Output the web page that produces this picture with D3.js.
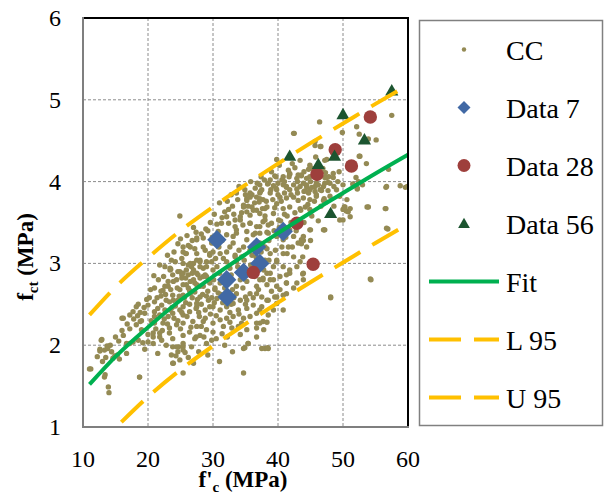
<!DOCTYPE html>
<html>
<head>
<meta charset="utf-8">
<script src="https://cdn.jsdelivr.net/npm/d3@7"></script>
<style>
  body { margin: 0; background: #fff; }
  svg { display: block; }
</style>
</head>
<body>
<script>
// values (f'c in MPa, fct in MPa)
const xTicks = [10, 20, 30, 40, 50, 60];
const yTicks = [1, 2, 3, 4, 5, 6];

const ccPoints = [
  [11.2,1.71],[12.9,2.07],[12.6,1.95],[13.7,1.99],[13.5,1.85],[13.9,1.49],[14.0,1.42],[13.4,1.64],[14.9,1.87],[15.3,1.88],
  [17.2,2.02],[18.7,1.61],[16.0,2.33],[18.4,2.36],[18.8,2.29],[19.2,2.03],[20.8,2.10],[21.8,2.15],[23.9,1.78],[24.3,1.87],
  [24.7,1.98],[25.4,1.98],[25.4,1.66],[25.7,1.91],[27.0,1.78],[28.0,2.12],[34.7,1.66],[34.9,1.97],[35.4,2.02],[36.7,2.21],
  [37.2,2.27],[38.0,1.96],[38.4,1.97],[37.8,2.19],[38.3,2.28],[34.4,2.27],[35.2,2.19],
  [24.9,3.58],[20.9,2.85],[23.5,2.93],[31.0,3.74],[59.9,3.94],[58.8,3.95],[56.7,3.94],[53.6,4.22],[52.6,4.31],
  [53.9,3.69],[56.6,3.67],[56.9,3.42],[54.2,2.81],[48.1,2.58],[47.2,3.41],[45.0,3.41],[43.9,2.88],[42.4,2.70],[43.6,3.29],
  [50.6,3.78],[50.0,3.66],[50.8,3.63],[52.4,4.00],[51.7,3.96],[52.2,3.91],[48.5,4.10],[48.5,4.05],
  [46.4,4.73],[42.5,4.59],[49.9,4.60],[52.1,4.67],[52.5,4.58],[55.1,4.51],[53.9,4.52],[57.5,4.81],[52.5,4.31],
  [45.7,4.44],[46.6,4.43],[45.8,4.30],[39.8,4.27],[47.5,4.27],
  [57.0,4.15],[47.2,4.05],[52.0,4.05],[44.4,4.04],[43.6,4.08],[47.2,3.98],[47.7,3.99],[45.7,3.94],[44.9,3.90],[44.0,3.88],
  [44.7,3.86],[45.7,3.88],[46.7,3.89],[47.7,3.89],[51.5,3.97],[52.2,3.92],[53.0,3.96],[56.6,3.93],[59.6,3.93],
  [47.1,3.79],[47.4,3.75],[50.2,3.69],[50.5,3.64],[53.7,3.69],[56.5,3.67],[43.4,3.67],[44.9,3.66],[43.5,3.65],[50.0,3.53],
  [44.9,3.41],[47.1,3.41],[56.7,3.43],[43.9,3.28],[43.6,3.24],[43.8,3.08],[43.8,2.87],[54.3,2.80],[48.1,2.59],
  [47.2,4.26],[44.9,4.20],[45.2,4.16],[44.7,4.15],[46.9,4.16],[47.3,4.11],[39.5,4.07],[41.8,4.09],[41.7,4.06],[43.6,4.07],
  [47.5,4.05],[38.4,3.97],[39.3,3.95],[39.7,3.92],[38.9,3.90],[40.8,3.96],[42.4,3.96],[41.3,3.93],[41.8,3.90],[42.9,3.91],
  [43.4,3.94],[44.4,3.96],[45.2,3.93],[45.9,3.84],[46.5,3.90],[44.2,3.89],
  [34.9,3.90],[36.0,3.84],[35.2,3.77],[37.2,3.96],[37.3,3.88],[36.7,3.81],[37.7,3.78],[34.7,3.71],[36.0,3.69],[37.6,3.67],
  [40.3,3.81],[41.3,3.80],[42.4,3.81],[43.9,3.80],[43.1,3.77],[44.9,3.78],[39.8,3.73],[41.8,3.69],[40.8,3.67],[44.2,3.69],
  [35.7,3.81],[37.2,3.86],[37.1,3.75],[34.7,3.69],[35.2,3.63],[34.2,3.57],[35.7,3.59],[36.7,3.65],[38.0,3.67],
  [31.3,3.49],[32.4,3.49],[33.4,3.53],[33.4,3.45],[34.6,3.47],[35.7,3.49],[36.7,3.45],[37.7,3.51],[38.5,3.47],
  [30.8,3.39],[32.1,3.35],[33.6,3.37],[35.2,3.39],[36.2,3.35],[37.2,3.37],[38.3,3.38],
  [27.5,3.29],[28.5,3.31],[29.8,3.25],[33.1,3.25],[34.7,3.20],[37.2,3.25],[38.3,3.18],
  [25.4,3.14],[26.5,3.20],[27.5,3.12],[28.8,3.16],[29.5,3.10],[31.1,3.12],[32.1,3.14],[33.4,3.10],[34.4,3.08],
  [25.4,3.00],[25.9,2.92],[26.7,2.96],[28.0,3.02],[28.5,2.94],[29.8,3.02],[30.6,2.96],[32.1,3.02],[38.0,3.04],[38.3,2.88],[37.7,2.80],
  [23.4,2.94],[22.6,2.72],[24.4,2.80],[25.2,2.86],[25.9,2.74],[27.5,2.74],[29.0,2.84],[29.5,2.76],[31.1,2.76],[30.3,2.70],
  [22.3,2.67],[23.1,2.72],[23.8,2.61],[21.0,2.53],[22.1,2.49],[23.3,2.53],[24.6,2.55],[25.4,2.61],[26.4,2.67],[20.0,2.49],
  [18.2,2.47],[17.7,2.41],[16.2,2.33],[17.2,2.37],[19.5,2.39],[21.0,2.41],[21.0,2.35],[21.8,2.37],[22.6,2.43],[23.1,2.35],
  [23.8,2.39],[24.9,2.43],[25.4,2.37],[26.4,2.41],[27.4,2.45],[27.9,2.35],[21.0,2.27],[22.3,2.27],[23.3,2.21],[24.4,2.25],
  [25.4,2.27],[26.9,2.29],[28.2,2.23],[18.2,2.25],[19.0,2.19],[20.0,2.13],[20.8,2.15],[21.8,2.10],[23.3,2.15],[23.8,2.08],
  [25.4,2.12],[27.4,2.10],[25.4,2.02],[16.7,2.02],[17.7,2.04],[12.8,2.06],[13.3,1.94],[12.6,1.93],[13.8,1.96],[15.1,1.87],
  [14.6,1.84],[15.6,1.83],[16.7,1.90],[18.5,2.06],[20.0,2.04],[22.1,2.06],[23.8,1.98],[24.4,1.98],[24.6,1.92],[25.4,1.94],
  [24.9,1.82],[23.8,1.78],[11.0,1.71],[13.3,1.61],[18.7,1.61],[23.6,1.88],[26.7,1.98],
  [27.0,3.00],[28.0,2.96],[29.0,3.02],[27.5,2.88],[28.8,2.86],[30.0,2.92],[27.2,2.76],[28.5,2.72],[29.5,2.78],[30.3,2.68],
  [28.0,2.59],[29.3,2.55],[30.6,2.57],[27.5,2.47],[28.8,2.43],[30.0,2.47],[31.1,2.43],[32.1,2.47],[33.1,2.51],[34.2,2.55],
  [35.0,2.59],[33.9,2.43],[35.2,2.45],[36.2,2.49],[36.7,2.39],[35.7,2.35],[34.7,2.33],[33.1,2.35],[32.1,2.33],[31.1,2.31],
  [30.0,2.27],[28.5,2.29],[27.5,2.23],[29.0,2.19],[31.6,2.23],[32.9,2.21],[33.9,2.23],[36.7,2.27],[37.7,2.29],[34.2,2.13],
  [35.4,2.02],[36.7,2.10],[34.7,1.96],[37.5,1.96],[38.5,1.96],[27.2,2.08],[38.3,2.74],[39.3,2.80],[40.3,2.84],[41.3,2.86],
  [39.0,2.66],[40.3,2.68],[40.8,2.61],[39.5,2.59],[38.5,2.55],[37.5,2.59],[41.3,2.76],[41.8,2.92],[43.4,3.02],[39.8,2.51],
  [37.5,2.47],[38.5,2.37],[35.7,2.63],[36.7,2.72],[37.7,2.82],[38.8,2.88],[36.0,2.92],[35.2,2.78],[36.7,3.02],[39.8,3.02],
  [25.4,3.20],[25.8,3.12],[23.4,2.92],[23.1,2.78],[23.9,2.78],[24.9,2.90],[25.2,2.82],[26.2,2.86],[27.0,2.92],[27.5,3.04],
  [27.7,2.86],[26.5,2.78],[25.4,2.74],[25.2,3.06],[26.2,2.98],[27.5,3.31],[27.2,3.18],
  [32.1,3.57],[35.2,3.79],[35.7,3.86],[37.5,3.90],[38.5,3.98],[37.2,3.79],[38.8,3.86],[39.8,3.90],[39.7,4.06],[40.6,4.02],
  [41.3,3.94],[40.8,4.06],[41.8,4.10],[42.9,4.04],[41.6,4.14],[42.6,4.17],[43.9,3.98],[44.9,4.06],[44.4,3.94],[45.9,3.98],
  [47.0,3.94],[48.0,3.98],[45.9,3.82],[47.0,3.77],[48.0,3.82],[49.0,3.90],[49.5,3.82],[50.3,3.69],[51.1,3.67],[51.1,3.57],
  [49.5,3.53],[46.5,4.43],[45.7,4.49],[42.4,4.59],[44.9,4.16],[43.1,4.08],[47.0,3.41],[43.9,3.33],[43.1,3.25],[41.6,3.20],
  [42.4,3.08],[44.4,3.20],
  [36.2,3.65],[37.2,3.61],[38.3,3.69],[39.3,3.61],[38.0,3.53],[39.0,3.49],[40.1,3.53],[37.2,3.45],[38.5,3.37],[39.8,3.33],
  [40.8,3.29],[35.7,3.49],[36.5,3.37],[35.2,3.29],[41.8,3.41],[42.4,3.33],[40.8,3.12],[39.8,3.04],[38.8,3.12],[38.0,3.20],
  [35.7,3.16],[39.3,2.96],[40.8,2.96],[41.8,2.88],[42.9,2.96],[37.2,2.80],[38.8,2.80],[39.8,2.72],[41.3,2.76],[42.9,2.76],
  [43.9,2.80],[34.2,3.53],[33.6,3.41],[33.1,3.33],[32.6,3.20],[33.4,3.08],[29.5,3.12],[28.5,3.20],[28.0,3.04],[26.5,3.00],
  [25.9,3.12],[25.4,2.88],[27.0,2.80],[28.5,2.84],[30.1,2.80],[28.0,2.72],[26.5,2.63],[24.9,2.68],[23.9,2.55],[23.4,2.43],
  [25.4,2.47],[27.5,2.51],[29.5,2.47],[33.6,2.63],[35.2,2.55],[36.7,2.63],[38.3,2.55],[39.8,2.59],[41.3,2.63],[37.2,2.43],
  [39.3,2.43],[40.8,2.43],
  [20.5,2.30],[21.5,2.45],[22.0,2.60],[22.8,2.55],[23.5,2.68],[24.2,2.48],[24.8,2.60],[25.8,2.52],[26.2,2.70],[26.8,2.58],
  [27.2,2.65],[28.4,2.62],[29.2,2.66],[29.8,2.58],[30.8,2.64],[21.2,2.20],[22.5,2.32],[24.0,2.33],[25.0,2.20],[26.0,2.35],
  [26.6,2.22],[27.8,2.40],[28.8,2.33],[29.6,2.38],[30.5,2.36],[31.5,2.52],[32.6,2.40],[33.0,2.68],[31.8,2.70],[32.8,2.86],
  [33.8,2.96],[34.8,3.04],[31.6,3.06],[30.9,3.20],[29.9,3.32],[28.9,3.42],[29.6,3.50],[30.2,3.60],[31.8,3.63],[33.0,3.70],
  [33.8,3.78],[32.8,3.84],[34.0,3.94],[35.8,4.00],[36.5,3.92],[37.9,4.02],[39.0,4.12],[40.2,4.20],[38.0,3.58],[39.5,3.68],
  [40.5,3.76],[41.0,3.60],[42.0,3.50],[40.2,3.44],[41.2,3.32],[36.0,3.10],[37.4,3.14],[34.6,2.70],[33.2,2.58],[36.4,2.84],
  [35.2,2.92],[22.4,2.84],[21.8,2.98],[24.2,3.02],[23.0,3.10],[24.6,3.24],[26.0,3.34],[27.0,3.44],[25.2,2.40],[19.0,2.30],
  [19.8,2.56],[20.4,2.68],[18.5,2.50],[17.2,2.20],[16.2,2.12],[15.5,2.05],[14.2,2.00],[13.0,1.80],[19.5,1.95],[21.5,1.90],
  [22.8,2.00],[26.2,1.85],[27.8,1.92],[29.0,2.02],[30.5,2.08],[31.8,2.00],[33.0,1.92],[32.2,2.10],[30.0,2.16],[31.0,1.80],
  [29.2,1.88],
  [22.7,2.62],[23.7,2.46],[24.5,2.70],[25.6,2.58],[26.4,2.50],[27.6,2.56],[28.2,2.50],[29.0,2.60],[30.2,2.52],[31.2,2.62],
  [32.0,2.58],[32.8,2.50],[33.6,2.72],[34.2,2.80],[35.0,2.86],[35.8,2.98],[36.6,3.08],[37.6,3.22],[38.6,3.28],[39.4,3.40],
  [40.4,3.52],[41.4,3.58],[42.6,3.62],[43.0,3.86],[42.0,3.84],[41.0,3.86],[40.0,3.84],[39.2,3.78],[38.2,3.76],[36.4,3.74],
  [35.4,3.70],[34.4,3.62],[33.2,3.60],[32.4,3.66],[31.4,3.56],[30.6,3.48],[29.2,3.40],[28.2,3.36],[27.4,3.38],[26.8,3.28],
  [26.2,3.22],[25.0,3.30],[24.0,3.14],[23.6,3.04],[22.6,2.96],[21.6,2.80],[21.0,2.70],[20.2,2.58],[19.4,2.46],[18.8,2.40],
  [17.8,2.32],[16.8,2.26],[16.0,2.18],[15.0,2.10],[14.4,1.92],[12.2,1.86],[20.8,2.02],[22.2,2.18],[23.0,2.26],[24.6,2.30],
  [26.4,2.16],[28.6,2.10],[29.8,2.06],[31.4,2.14],[32.6,2.28],[34.0,2.38],[35.0,2.50],[36.2,2.58],[37.0,2.68],[37.8,2.92],
  [38.6,3.04],[39.6,3.16],[40.6,3.20],[41.4,3.12],[42.2,3.20],[30.4,3.06],[31.0,2.88],[32.6,2.94],[33.6,3.02],[34.0,3.16],
  [31.4,3.28],[30.0,3.14],[29.0,2.96],[28.0,2.82],[26.8,2.88],[25.8,2.82],[24.6,2.90],[23.8,2.86],[22.0,2.66],[21.4,2.58],
  [43.0,4.00],[44.0,4.12],[45.0,4.00],[46.0,4.04],[46.2,3.96],[47.8,4.06],[48.6,3.94],[49.2,4.00],[50.0,3.96],[49.4,4.12],
  [42.2,4.22],[43.4,4.26],[41.0,4.00],[40.0,3.98],[38.8,4.02],[37.4,4.06],[36.8,3.98],[35.0,3.84],[33.6,3.86],[32.2,3.76],
  [44.6,3.72],[45.6,3.76],[46.6,3.70],[48.6,3.70],[45.2,3.58],[46.2,3.52],[44.0,3.50],[42.8,3.40],[45.0,3.28],[41.6,3.44]
];

const data7 = [[30.6,3.29],[36.7,3.20],[40.8,3.39],[37.2,3.00],[34.7,2.89],[32.1,2.80],[32.2,2.59]];
const data28 = [[54.2,4.79],[48.8,4.39],[51.3,4.19],[46.0,4.09],[42.9,3.49],[45.4,2.99],[36.2,2.89]];
const data56 = [[57.5,5.10],[50.0,4.81],[53.3,4.50],[41.8,4.30],[46.2,4.20],[48.7,4.30],[48.1,3.60]];

const fitX = [11, 15, 20, 25, 30, 35, 40, 45, 50, 55, 60];
const fitY = [1.52, 1.86, 2.22, 2.55, 2.84, 3.11, 3.37, 3.62, 3.86, 4.10, 4.33];
const upperY = [2.37, 2.71, 3.07, 3.40, 3.69, 3.96, 4.22, 4.47, 4.71, 4.95, 5.18];
const lowerX = [15.9, 20, 25, 30, 35, 40, 45, 50, 55, 60];
const lowerY = [1.06, 1.37, 1.70, 1.99, 2.26, 2.52, 2.77, 3.01, 3.25, 3.48];

const legendNames = ["CC", "Data 7", "Data 28", "Data 56", "Fit", "L 95", "U 95"];

const FONT = "Liberation Serif";

const svg = d3.select("body").append("svg")
  .attr("width", 605)
  .attr("height", 493)
  .style("background", "#fff");

const x = d3.scaleLinear().domain([10, 60]).range([83, 408]);
const y = d3.scaleLinear().domain([1, 6]).range([427, 18]);

svg.append("clipPath").attr("id", "plotclip")
  .append("rect")
  .attr("x", 83).attr("y", 18)
  .attr("width", 325).attr("height", 409);

// grid
const grid = svg.append("g")
  .attr("stroke", "#8c8c8c")
  .attr("stroke-width", 1)
  .attr("stroke-dasharray", "3,2");
grid.selectAll(".vg").data(xTicks.slice(1, -1)).join("line")
  .attr("x1", d => x(d)).attr("x2", d => x(d))
  .attr("y1", y(6)).attr("y2", y(1));
grid.selectAll(".hg").data(yTicks.slice(1, -1)).join("line")
  .attr("x1", x(10)).attr("x2", x(60))
  .attr("y1", d => y(d)).attr("y2", d => y(d));

const plot = svg.append("g").attr("clip-path", "url(#plotclip)");

plot.selectAll(".cc").data(ccPoints).join("circle")
  .attr("cx", d => x(d[0]))
  .attr("cy", d => y(d[1]))
  .attr("r", 2.7)
  .attr("fill", "#948A54");

const diamond = d3.symbol().type(d3.symbolSquare).size(188);
plot.selectAll(".d7").data(data7).join("path")
  .attr("d", diamond)
  .attr("transform", d => `translate(${x(d[0])},${y(d[1])}) rotate(45)`)
  .attr("fill", "#4169A5");

plot.selectAll(".d28").data(data28).join("circle")
  .attr("cx", d => x(d[0]))
  .attr("cy", d => y(d[1]))
  .attr("r", 6.7)
  .attr("fill", "#9E3F3C");

const tri = d3.symbol().type(d3.symbolTriangle).size(75);
plot.selectAll(".d56").data(data56).join("path")
  .attr("d", tri)
  .attr("transform", d => `translate(${x(d[0])},${y(d[1])})`)
  .attr("fill", "#1C5530");

const line = d3.line()
  .x(d => x(d[0]))
  .y(d => y(d[1]))
  .curve(d3.curveMonotoneX);

plot.append("path")
  .datum(lowerX.map((v, i) => [v, lowerY[i]]))
  .attr("d", line)
  .attr("fill", "none")
  .attr("stroke", "#FFC000")
  .attr("stroke-width", 4)
  .attr("stroke-dasharray", "30,14");

plot.append("path")
  .datum(fitX.map((v, i) => [v, upperY[i]]))
  .attr("d", line)
  .attr("fill", "none")
  .attr("stroke", "#FFC000")
  .attr("stroke-width", 4)
  .attr("stroke-dasharray", "30,14");

plot.append("path")
  .datum(fitX.map((v, i) => [v, fitY[i]]))
  .attr("d", line)
  .attr("fill", "none")
  .attr("stroke", "#00B050")
  .attr("stroke-width", 4);

// frame: black top/right, gray axes
svg.append("line").attr("x1", 83).attr("x2", 409).attr("y1", 18).attr("y2", 18)
  .attr("stroke", "#000").attr("stroke-width", 2);
svg.append("line").attr("x1", 408).attr("x2", 408).attr("y1", 17).attr("y2", 428)
  .attr("stroke", "#000").attr("stroke-width", 2);
svg.append("line").attr("x1", 83).attr("x2", 83).attr("y1", 17).attr("y2", 428)
  .attr("stroke", "#7f7f7f").attr("stroke-width", 2);
svg.append("line").attr("x1", 82).attr("x2", 409).attr("y1", 427).attr("y2", 427)
  .attr("stroke", "#7f7f7f").attr("stroke-width", 2);

// tick labels
svg.selectAll(".xt").data(xTicks).join("text")
  .attr("x", d => x(d))
  .attr("y", 467)
  .attr("text-anchor", "middle")
  .attr("font-size", "24px")
  .style("font-family", FONT)
  .text(d => d);

svg.selectAll(".yt").data(yTicks).join("text")
  .attr("x", 61)
  .attr("y", d => y(d) + 8)
  .attr("text-anchor", "end")
  .attr("font-size", "24px")
  .style("font-family", FONT)
  .text(d => d);

// axis titles
const xt = svg.append("text")
  .attr("x", 243)
  .attr("y", 487)
  .attr("text-anchor", "middle")
  .attr("font-weight", "bold")
  .attr("font-size", "23px")
  .style("font-family", FONT);
xt.append("tspan").text("f'");
xt.append("tspan").attr("font-size", "15px").attr("dy", 5).text("c");
xt.append("tspan").attr("dy", -5).text(" (MPa)");

const yt = svg.append("text")
  .attr("transform", "translate(33,257) rotate(-90)")
  .attr("text-anchor", "middle")
  .attr("font-weight", "bold")
  .attr("font-size", "23px")
  .style("font-family", FONT);
yt.append("tspan").text("f");
yt.append("tspan").attr("font-size", "15px").attr("dy", 5).text("ct");
yt.append("tspan").attr("dy", -5).text(" (MPa)");

// legend
const lg = svg.append("g");
lg.append("rect")
  .attr("x", 419.5).attr("y", 20.5)
  .attr("width", 183).attr("height", 405)
  .attr("fill", "#fff")
  .attr("stroke", "#808080")
  .attr("stroke-width", 1.5);

const items = lg.selectAll(".item").data(legendNames).join("g")
  .attr("transform", (d, i) => `translate(0,${49.5 + i * 58})`);

items.append("text")
  .attr("x", 506)
  .attr("y", 10)
  .attr("font-size", "28px")
  .style("font-family", FONT)
  .text(d => d);

items.filter((d, i) => i === 0).append("circle")
  .attr("cx", 464).attr("r", 2.2).attr("fill", "#948A54");
items.filter((d, i) => i === 1).append("path")
  .attr("d", d3.symbol().type(d3.symbolSquare).size(85))
  .attr("transform", "translate(464,0) rotate(45)")
  .attr("fill", "#4169A5");
items.filter((d, i) => i === 2).append("circle")
  .attr("cx", 464).attr("r", 6.5).attr("fill", "#9E3F3C");
items.filter((d, i) => i === 3).append("path")
  .attr("d", d3.symbol().type(d3.symbolTriangle).size(60))
  .attr("transform", "translate(464,1)")
  .attr("fill", "#1C5530");
items.filter((d, i) => i === 4).append("line")
  .attr("x1", 429).attr("x2", 499)
  .attr("stroke", "#00B050").attr("stroke-width", 4);
items.filter((d, i) => i >= 5).append("line")
  .attr("x1", 429).attr("x2", 499)
  .attr("stroke", "#FFC000").attr("stroke-width", 4)
  .attr("stroke-dasharray", "32,13");
</script>
</body>
</html>
